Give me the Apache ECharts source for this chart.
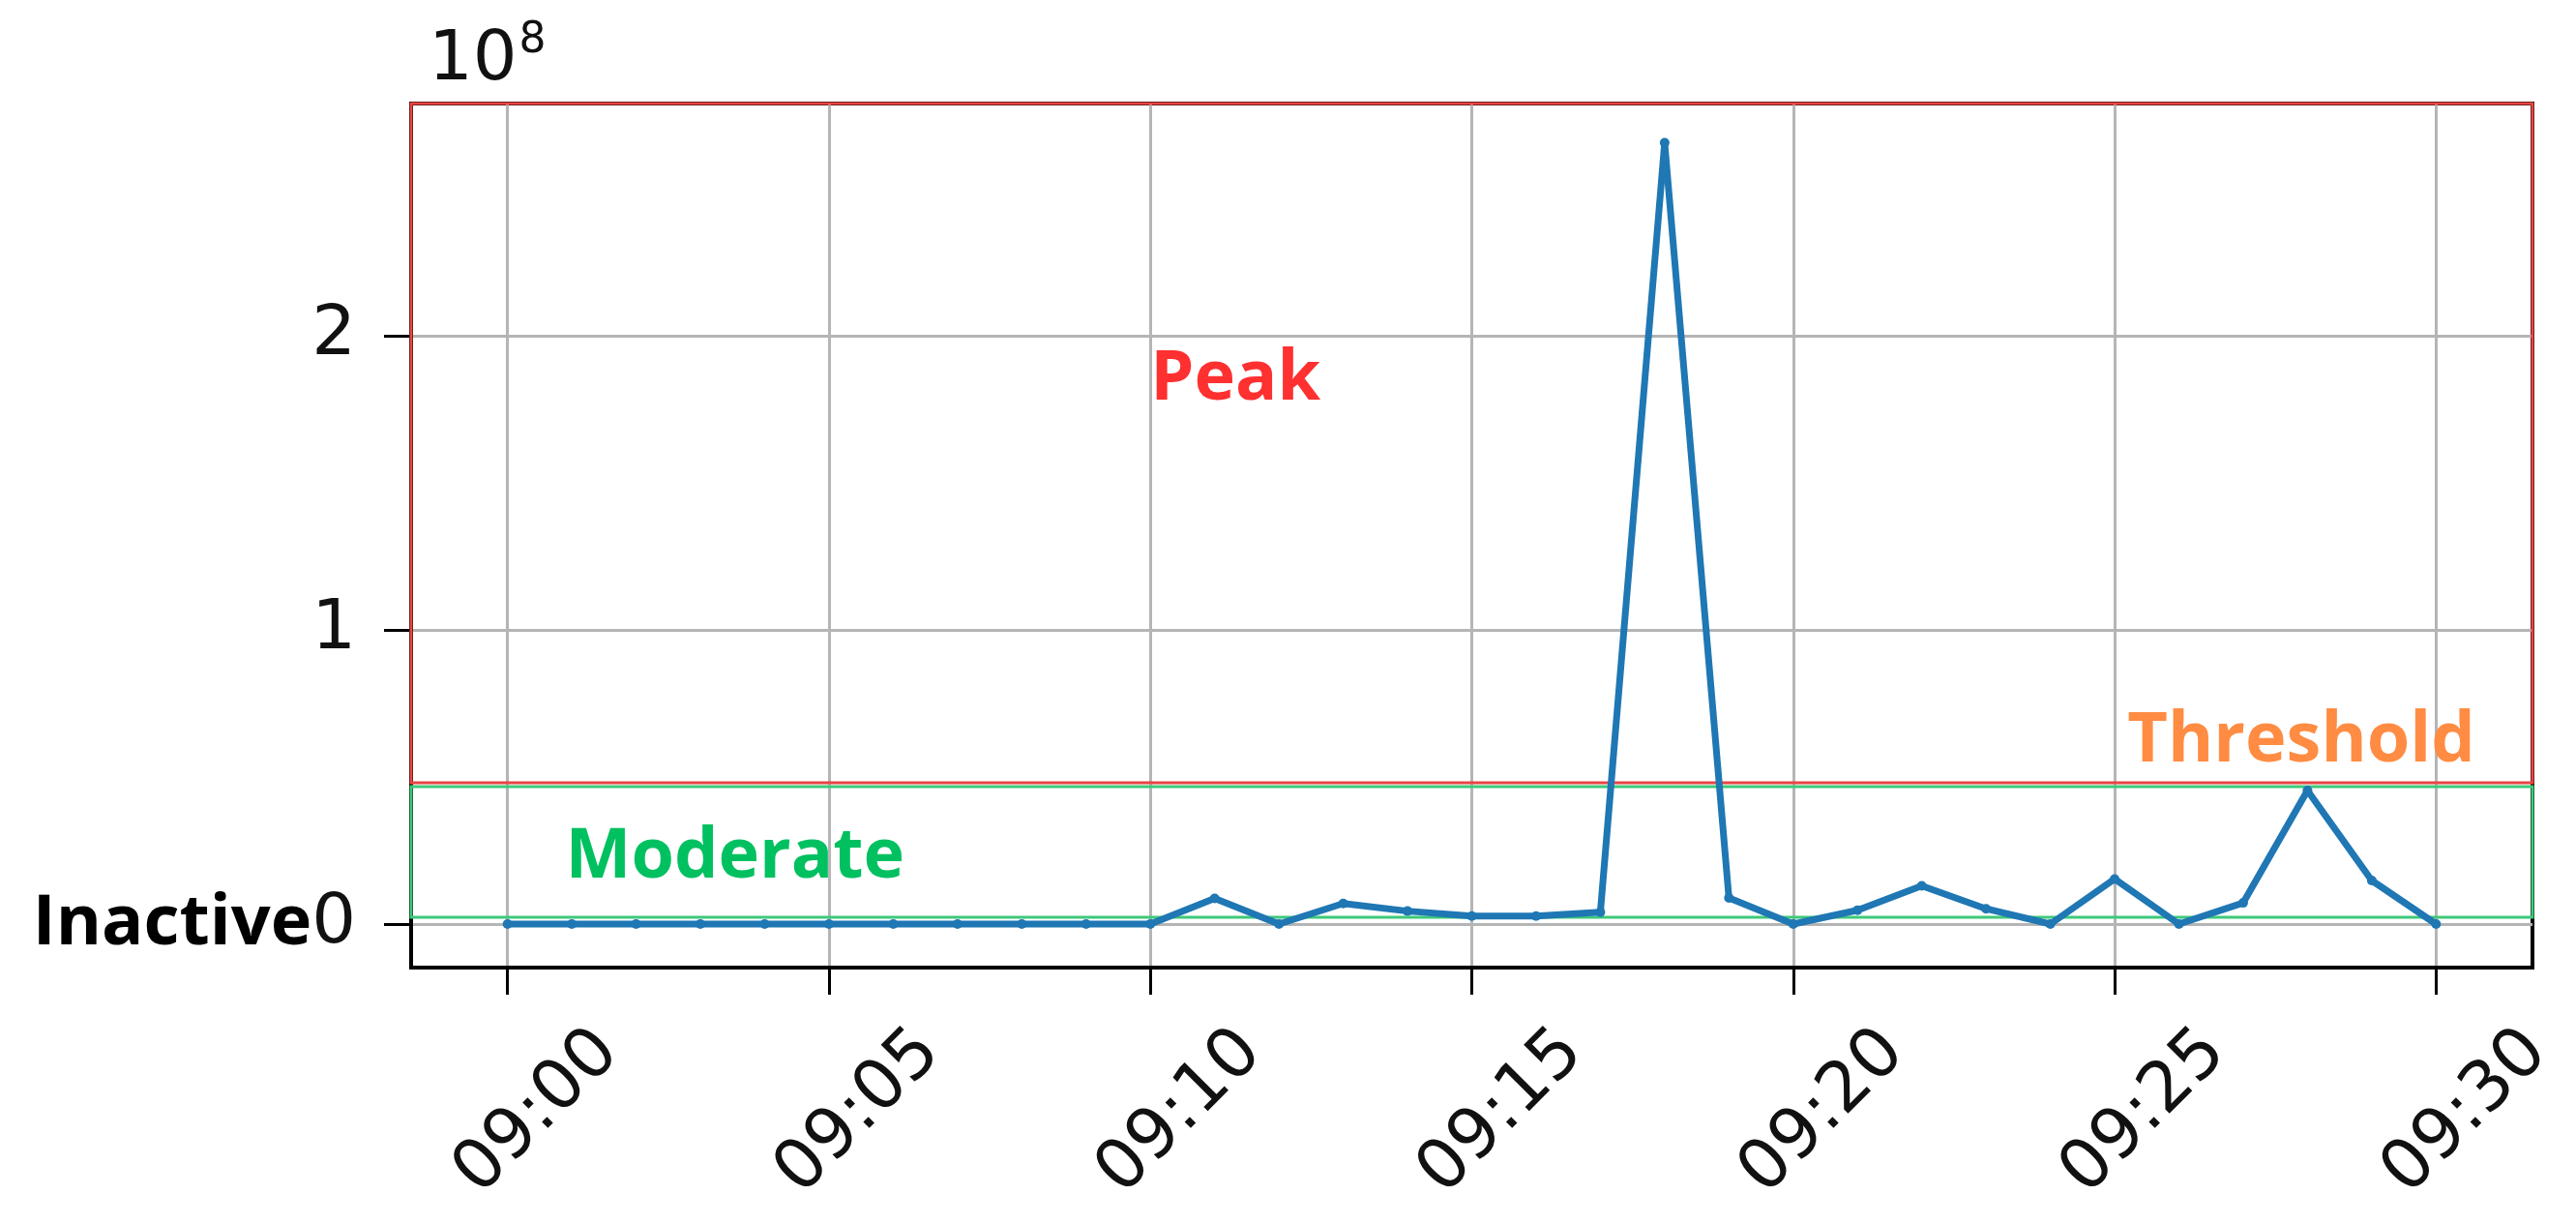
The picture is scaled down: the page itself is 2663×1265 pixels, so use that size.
<!DOCTYPE html>
<html>
<head>
<meta charset="utf-8">
<script src="https://cdn.jsdelivr.net/npm/echarts@6/dist/echarts.min.js"></script>
<style>
  html, body { margin: 0; padding: 0; background: #fff; }
  #chart { width: 2663px; height: 1265px; }
</style>
</head>
<body>
<div id="chart"></div>
<script>
// 每分钟一个点
var times = ["09:00", "09:01", "09:02", "09:03", "09:04", "09:05", "09:06", "09:07",
  "09:08", "09:09", "09:10", "09:11", "09:12", "09:13", "09:14", "09:15", "09:16",
  "09:17", "09:18", "09:19", "09:20", "09:21", "09:22", "09:23", "09:24", "09:25",
  "09:26", "09:27", "09:28", "09:29", "09:30"];
var values = [0, 0, 0, 0, 0, 0, 0, 0, 0, 0, 0,
  8.7e6, 0, 7.0e6, 4.4e6, 2.7e6, 2.7e6, 4.0e6, 265.6e6, 8.9e6, 0,
  4.7e6, 13.0e6, 5.2e6, 0, 15.3e6, 0, 7.2e6, 45.4e6, 14.8e6, 0];
var xTickLabels = ["09:00", "09:05", "09:10", "09:15", "09:20", "09:25", "09:30"];
var yTicks = [0, 1e8, 2e8];

// 区间 (Moderate / Peak)
var bandNames = ["Moderate", "Peak"];
var bandLow = [2.3e6, 48e6];
var bandHigh = [46.7e6, 278.9e6];
var bandColors = ["#3ec97a", "#e84545"];

var xMin = -1.5, xMax = 31.5;
var yMin = -14.8e6, yMax = 278.9e6;

function toMinute(t) {
  var p = t.split(":");
  return (Number(p[0]) - 9) * 60 + Number(p[1]);
}
var xTicks = xTickLabels.map(toMinute);
var seriesData = times.map(function (t, i) { return [toMinute(t), values[i]]; });

var tickFont = "DejaVu Sans";
var noteFont = "Open Sans";

var option = {
  animation: false,
  grid: {
    left: 425, right: 45, top: 107, bottom: 265,
    show: true, borderColor: "#000", borderWidth: 4,
    outerBoundsMode: "none"
  },
  xAxis: {
    type: "value",
    min: xMin,
    max: xMax,
    axisLine: { show: true, onZero: false, lineStyle: { color: "#000", width: 4 } },
    axisTick: { show: true, customValues: xTicks, length: 28, lineStyle: { color: "#000", width: 3 } },
    splitLine: { show: true, lineStyle: { color: "#b5b5b5", width: 3 } },
    axisLabel: {
      customValues: xTicks,
      rotate: 45,
      align: "center",
      verticalAlign: "middle",
      margin: 181,
      padding: [0, 0, 0, 88],
      fontFamily: tickFont,
      fontSize: 72,
      color: "#111",
      formatter: function (v) {
        var m = Math.round(v);
        return "09:" + (m < 10 ? "0" + m : m);
      }
    }
  },
  yAxis: {
    type: "value",
    min: yMin,
    max: yMax,
    name: "10{sup|8}",
    nameLocation: "end",
    nameGap: 2,
    nameTextStyle: {
      fontFamily: tickFont,
      fontSize: 72,
      color: "#111",
      align: "left",
      verticalAlign: "bottom",
      padding: [0, 0, 0, 18],
      rich: {
        sup: { fontFamily: tickFont, fontSize: 44, color: "#111", verticalAlign: "top", padding: [0, 0, 40, 2] }
      }
    },
    axisLine: { show: true, onZero: false, lineStyle: { color: "#000", width: 4 } },
    axisTick: { show: true, customValues: yTicks, length: 28, lineStyle: { color: "#000", width: 3 } },
    splitLine: { show: true, lineStyle: { color: "#b5b5b5", width: 3 } },
    axisLabel: {
      customValues: yTicks,
      margin: 57,
      fontFamily: tickFont,
      fontSize: 72,
      color: "#111",
      formatter: function (v) {
        if (v === 0) return "{b|Inactive}0";
        return String(Math.round(v / 1e8));
      },
      rich: {
        b: { fontFamily: noteFont, fontWeight: "bold", fontSize: 72, color: "#000" }
      }
    }
  },
  series: [
    {
      type: "line",
      data: seriesData,
      symbol: "circle",
      symbolSize: 10,
      lineStyle: { color: "#1f77b4", width: 7 },
      itemStyle: { color: "#1f77b4" },
      z: 3,
      markArea: {
        silent: true,
        label: { show: false },
        data: bandNames.map(function (n, i) {
          return [
            { name: n, xAxis: xMin, yAxis: bandLow[i],
              itemStyle: { color: "rgba(0,0,0,0)", borderColor: bandColors[i], borderWidth: 3 } },
            { xAxis: xMax, yAxis: bandHigh[i] }
          ];
        })
      },
      markPoint: {
        silent: true,
        symbol: "circle",
        symbolSize: 0,
        label: {
          show: true,
          position: "right",
          distance: 0,
          fontFamily: noteFont,
          fontWeight: "bold",
          fontSize: 72,
          formatter: "{b}"
        },
        data: [
          { name: "Peak", coord: [10, 185e6], label: { color: "#ff3030" } },
          { name: "Moderate", coord: [0.9, 22.4e6], label: { color: "#00c060" } },
          { name: "Threshold", coord: [25.2, 62e6], label: { color: "#ff8c42" } }
        ]
      }
    }
  ]
};

var myChart = echarts.init(document.getElementById("chart"));
myChart.setOption(option);
window.onresize = function () { myChart.resize(); };
</script>
</body>
</html>
